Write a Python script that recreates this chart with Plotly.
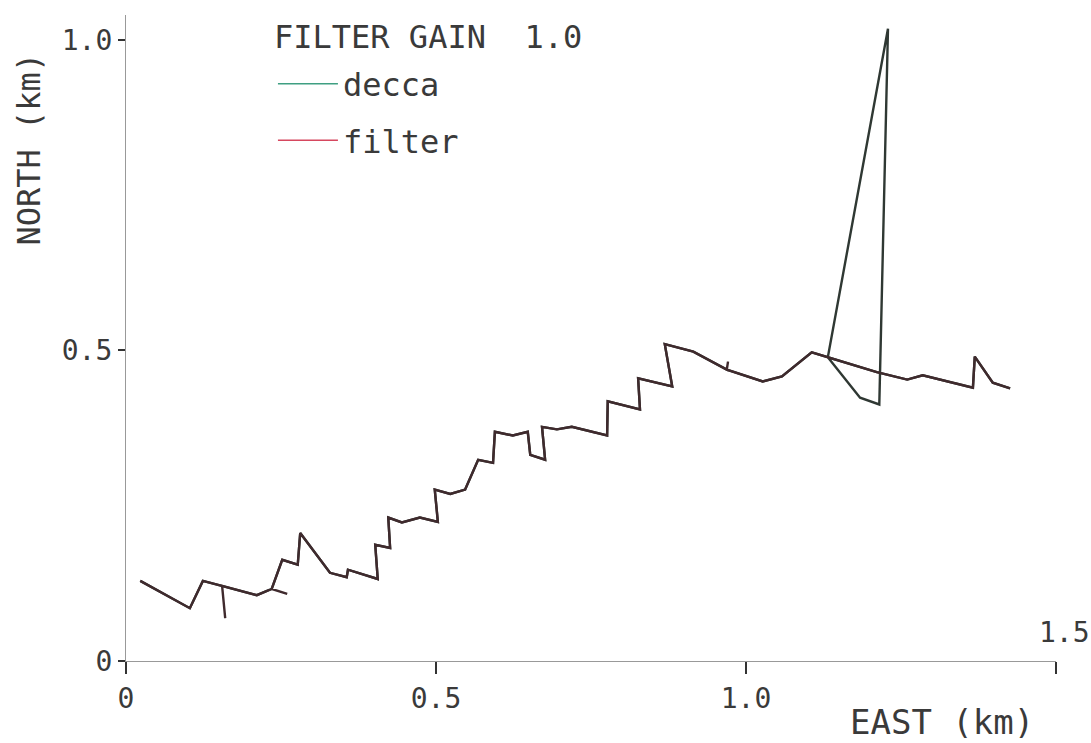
import plotly.graph_objects as go

# ---- data (km) ----
decca_east = [0.023, 0.103, 0.124, 0.155, 0.211, 0.235, 0.252, 0.277, 0.281, 0.329,
              0.356, 0.358, 0.406, 0.402, 0.426, 0.423, 0.445, 0.474, 0.503, 0.498,
              0.523, 0.547, 0.568, 0.592, 0.595, 0.624, 0.648, 0.652, 0.676, 0.671,
              0.695, 0.719, 0.776, 0.777, 0.829, 0.826, 0.881, 0.869, 0.915, 0.969,
              1.027, 1.058, 1.106, 1.132, 1.229, 1.215, 1.184, 1.132, 1.211, 1.260,
              1.285, 1.366, 1.369, 1.398, 1.426]
decca_north = [0.129, 0.085, 0.129, 0.121, 0.106, 0.116, 0.163, 0.155, 0.206, 0.142,
               0.135, 0.147, 0.132, 0.187, 0.182, 0.231, 0.223, 0.231, 0.224, 0.276,
               0.269, 0.276, 0.324, 0.319, 0.369, 0.363, 0.369, 0.332, 0.324, 0.377,
               0.373, 0.377, 0.363, 0.418, 0.405, 0.455, 0.442, 0.510, 0.498, 0.469,
               0.450, 0.458, 0.497, 0.489, 1.018, 0.413, 0.424, 0.489, 0.465, 0.453,
               0.460, 0.440, 0.490, 0.448, 0.439]

filter_east = [0.023, 0.103, 0.124, 0.155, 0.160, 0.155, 0.211, 0.235, 0.260, 0.235,
               0.252, 0.277, 0.281, 0.329, 0.356, 0.358, 0.406, 0.402, 0.426, 0.423,
               0.445, 0.474, 0.503, 0.498, 0.523, 0.547, 0.568, 0.592, 0.595, 0.624,
               0.648, 0.652, 0.676, 0.671, 0.695, 0.719, 0.776, 0.777, 0.829, 0.826,
               0.881, 0.869, 0.915, 0.969, 0.971, 0.969, 1.027, 1.058, 1.106, 1.132,
               1.211, 1.260, 1.285, 1.366, 1.369, 1.398, 1.426]
filter_north = [0.129, 0.085, 0.129, 0.121, 0.069, 0.121, 0.106, 0.116, 0.108, 0.116,
                0.163, 0.155, 0.206, 0.142, 0.135, 0.147, 0.132, 0.187, 0.182, 0.231,
                0.223, 0.231, 0.224, 0.276, 0.269, 0.276, 0.324, 0.319, 0.369, 0.363,
                0.369, 0.332, 0.324, 0.377, 0.373, 0.377, 0.363, 0.418, 0.405, 0.455,
                0.442, 0.510, 0.498, 0.469, 0.482, 0.469, 0.450, 0.458, 0.497, 0.489,
                0.465, 0.453, 0.460, 0.440, 0.490, 0.448, 0.439]

x_ticks = [0, 0.5, 1.0, 1.5]
x_tick_text = ["0", "0.5", "1.0", ""]
y_ticks = [0, 0.5, 1.0]
y_tick_text = ["0", "0.5", "1.0"]

legend_title = "FILTER GAIN  1.0"
series_names = ["decca", "filter"]
legend_colors = ["#3f9f82", "#d6475f"]
trace_colors = ["#2f3833", "#3f2a2d"]

FONT = "DejaVu Sans Mono"
INK = "#3a3a3a"

fig = go.Figure()

# data traces (drawn dark, as in the reference print)
fig.add_trace(go.Scatter(x=decca_east, y=decca_north, mode="lines",
                         line=dict(color=trace_colors[0], width=2.4),
                         showlegend=False, hoverinfo="skip"))
fig.add_trace(go.Scatter(x=filter_east, y=filter_north, mode="lines",
                         line=dict(color=trace_colors[1], width=2.4),
                         showlegend=False, hoverinfo="skip"))

# legend entries
for i, name in enumerate(series_names):
    fig.add_trace(go.Scatter(x=[None], y=[None], mode="lines", name=name,
                             legendgroup=name,
                             line=dict(color=legend_colors[i], width=1.5)))

fig.update_layout(
    width=1091, height=743,
    margin=dict(l=126, r=35, t=15, b=82),
    paper_bgcolor="white", plot_bgcolor="white",
    font=dict(family=FONT, color=INK, size=24),
    showlegend=True,
    legend=dict(
        x=0.158, y=0.936, xanchor="left", yanchor="top",
        font=dict(size=32, family=FONT, color=INK),
        traceorder="grouped", tracegroupgap=12,
        bgcolor="rgba(0,0,0,0)", itemwidth=60,
    ),
    annotations=[
        dict(x=0.157, y=1.0, xref="paper", yref="paper", text=legend_title,
             showarrow=False, xanchor="left", yanchor="middle", yshift=-22,
             font=dict(size=32, family=FONT, color=INK)),
        dict(x=0, y=1.0, xref="paper", yref="paper", text="NORTH (km)",
             showarrow=False, textangle=-90, xanchor="center", yanchor="top",
             xshift=-98, yshift=-36,
             font=dict(size=32, family=FONT, color=INK)),
        dict(x=1.5, y=0, xref="x", yref="y", text="1.5", showarrow=False,
             xanchor="center", yanchor="bottom", xshift=8, yshift=10,
             font=dict(size=28, family=FONT, color=INK)),
        dict(x=1.5, y=0, xref="x", yref="y", text="EAST (km)", showarrow=False,
             xanchor="right", yanchor="middle", xshift=-20, yshift=-61,
             font=dict(size=34, family=FONT, color=INK)),
    ],
)

fig.update_xaxes(
    range=[0, 1.5], tickvals=x_ticks, ticktext=x_tick_text,
    ticks="outside", ticklen=12, tickwidth=1.5, tickcolor="#333",
    showline=True, linecolor="#999", linewidth=1.2,
    showgrid=False, zeroline=False, tickfont=dict(size=28, family=FONT, color=INK),
)
fig.update_yaxes(
    range=[0, 1.04], tickvals=y_ticks, ticktext=y_tick_text,
    ticks="outside", ticklen=7, tickwidth=1.5, tickcolor="#333",
    showline=True, linecolor="#999", linewidth=1.2,
    showgrid=False, zeroline=False, tickfont=dict(size=28, family=FONT, color=INK),
)

fig.write_html("out.html", config={"displayModeBar": False},
               post_script="document.body.style.margin='0';document.body.style.overflow='hidden';")
